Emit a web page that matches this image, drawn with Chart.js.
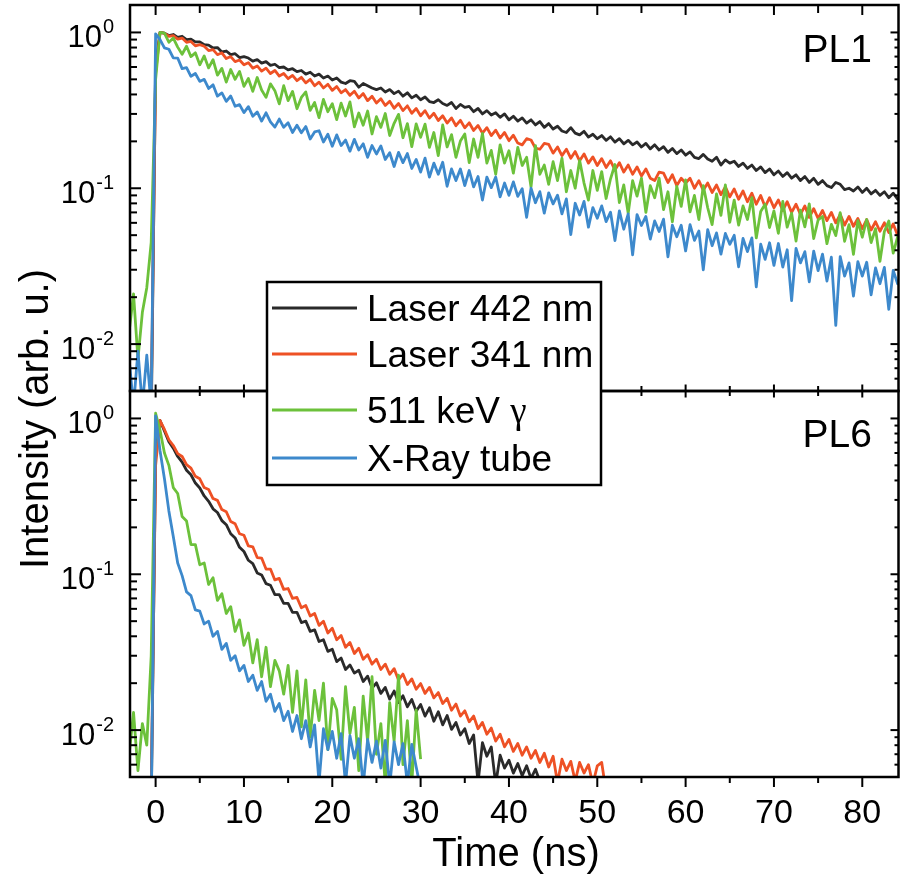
<!DOCTYPE html>
<html>
<head>
<meta charset="utf-8">
<title>PL1 / PL6 decay</title>
<script src="https://cdn.jsdelivr.net/npm/chart.js@4/dist/chart.umd.min.js"></script>
<style>
  html, body { margin: 0; padding: 0; background: #fff; }
  #decay { display: block; }
</style>
</head>
<body>
<canvas id="decay" width="901" height="878"></canvas>
<script>
// sampling grid, ns
const timeNs = [
  -3, -2.5, -2, -1.5, -1, -0.5, 0,
  0.5, 1, 1.5, 2, 2.5, 3, 3.5, 4, 4.5, 5,
  5.5, 6, 6.5, 7, 7.5, 8, 8.5, 9, 9.5, 10,
  10.5, 11, 11.5, 12, 12.5, 13, 13.5, 14, 14.5, 15,
  15.5, 16, 16.5, 17, 17.5, 18, 18.5, 19, 19.5, 20,
  20.5, 21, 21.5, 22, 22.5, 23, 23.5, 24, 24.5, 25,
  25.5, 26, 26.5, 27, 27.5, 28, 28.5, 29, 29.5, 30,
  30.5, 31, 31.5, 32, 32.5, 33, 33.5, 34, 34.5, 35,
  35.5, 36, 36.5, 37, 37.5, 38, 38.5, 39, 39.5, 40,
  40.5, 41, 41.5, 42, 42.5, 43, 43.5, 44, 44.5, 45,
  45.5, 46, 46.5, 47, 47.5, 48, 48.5, 49, 49.5, 50,
  50.5, 51, 51.5, 52, 52.5, 53, 53.5, 54, 54.5, 55,
  55.5, 56, 56.5, 57, 57.5, 58, 58.5, 59, 59.5, 60,
  60.5, 61, 61.5, 62, 62.5, 63, 63.5, 64, 64.5, 65,
  65.5, 66, 66.5, 67, 67.5, 68, 68.5, 69, 69.5, 70,
  70.5, 71, 71.5, 72, 72.5, 73, 73.5, 74, 74.5, 75,
  75.5, 76, 76.5, 77, 77.5, 78, 78.5, 79, 79.5, 80,
  80.5, 81, 81.5, 82, 82.5, 83, 83.5, 84, 84.5
];

const seriesNames = ['Laser 442 nm', 'Laser 341 nm', '511 keV \u03b3', 'X-Ray tube'];
const seriesColors = ['#2a2a2a', '#ee5125', '#6cc13b', '#3d89cc'];

const timeTicks = [0, 10, 20, 30, 40, 50, 60, 70, 80];
const intensityTicks = [1, 0.1, 0.01];
const intensityExponents = ['0', '-1', '-2'];
const panelNames = ['PL1', 'PL6'];

// PL1 panel
const pl1Laser442 = [
  .003, .003, .003, .003, .003, .003, .62,
  1.0, .99, .955, .97, .93, .945, .9, .905, .87, .87,
  .835, .83, .795, .8, .75, .76, .72, .73, .69, .7,
  .685, .655, .67, .635, .65, .615, .625, .595, .6, .575,
  .585, .56, .57, .54, .555, .525, .54, .51, .525, .495,
  .51, .48, .47, .49, .485, .445, .47, .455, .44, .43,
  .44, .415, .43, .405, .42, .39, .41, .38, .395, .37,
  .385, .36, .355, .37, .35, .34, .355, .325, .345, .33,
  .335, .31, .325, .3, .315, .295, .305, .285, .3, .275,
  .29, .27, .283, .262, .275, .255, .268, .246, .26, .24,
  .25, .233, .228, .245, .226, .22, .232, .213, .222, .208,
  .218, .203, .214, .198, .208, .193, .203, .19, .198, .184,
  .194, .179, .19, .176, .185, .17, .18, .167, .176, .163,
  .171, .158, .155, .165, .154, .149, .158, .141, .152, .145,
  .149, .138, .145, .134, .141, .13, .137, .126, .133, .122,
  .129, .119, .126, .116, .122, .112, .119, .109, .116, .106,
  .112, .104, .101, .109, .106, .098, .1, .096, .102, .094,
  .1, .092, .097, .09, .095, .087, .093, .085, .09
];
const pl1Laser341 = [
  .003, .003, .003, .003, .003, .004, .55,
  1.0, .985, .945, .955, .905, .92, .865, .875, .82, .835,
  .815, .765, .775, .72, .74, .68, .7, .65, .665, .62,
  .64, .59, .61, .565, .59, .545, .57, .525, .545, .505,
  .53, .49, .515, .475, .5, .455, .48, .44, .465, .425,
  .45, .41, .43, .395, .42, .38, .405, .365, .39, .352,
  .375, .34, .362, .326, .35, .315, .338, .303, .325, .292,
  .315, .282, .303, .272, .292, .262, .283, .252, .273, .244,
  .263, .235, .253, .226, .245, .218, .236, .21, .228, .202,
  .219, .195, .19, .208, .204, .181, .178, .194, .191, .168,
  .184, .162, .178, .156, .172, .15, .166, .145, .159, .14,
  .155, .136, .15, .131, .146, .127, .141, .123, .137, .12,
  .133, .116, .112, .127, .125, .109, .122, .104, .116, .108,
  .116, .1, .112, .097, .108, .094, .105, .091, .102, .088,
  .099, .085, .096, .082, .093, .079, .09, .076, .087, .075,
  .084, .072, .082, .07, .079, .068, .077, .065, .074, .064,
  .072, .062, .07, .06, .068, .058, .066, .057, .064, .055,
  .063, .054, .061, .053, .06, .052, .059, .05, .057
];
const pl1Gamma511 = [
  .012, .021, .008, .016, .023, .045, .5,
  1.0, .99, .865, .92, .805, .725, .815, .7, .74, .62,
  .707, .592, .668, .532, .588, .48, .578, .5, .562, .451,
  .506, .419, .514, .427, .383, .468, .423, .348, .455, .365,
  .418, .324, .383, .415, .316, .355, .284, .372, .31, .349,
  .276, .352, .291, .358, .248, .304, .254, .313, .223, .288,
  .246, .302, .218, .261, .298, .211, .26, .185, .259, .212,
  .258, .183, .228, .162, .255, .184, .221, .158, .201, .223,
  .146, .207, .158, .225, .145, .175, .123, .19, .145, .174,
  .125, .183, .14, .158, .102, .188, .123, .141, .106, .148,
  .112, .156, .095, .13, .1, .151, .108, .084, .13, .097,
  .128, .086, .115, .142, .081, .105, .069, .112, .089, .116,
  .07, .104, .087, .116, .073, .095, .061, .103, .0765, .113,
  .0705, .09, .063, .104, .075, .0585, .092, .067, .105, .0605,
  .084, .058, .077, .063, .087, .048, .071, .079, .056, .0715,
  .0514, .0824, .0563, .0692, .0458, .0724, .0566, .0794, .0476, .0626,
  .0659, .0441, .0587, .0497, .0698, .0457, .0584, .0377, .062, .0485,
  .063, .0448, .0551, .034, .0528, .0616, .0384, .0488, .0407
];
const pl1XRay = [
  .008, .004, .009, .004, .0085, .004, .98,
  .9, .795, .78, .686, .685, .586, .595, .523, .545, .485,
  .5, .437, .461, .39, .409, .361, .391, .336, .344, .306,
  .334, .29, .309, .27, .305, .267, .247, .278, .246, .263,
  .228, .254, .227, .249, .207, .23, .234, .198, .222, .186,
  .22, .188, .204, .173, .206, .176, .193, .158, .188, .166,
  .187, .153, .169, .138, .17, .146, .167, .134, .153, .127,
  .156, .118, .145, .123, .147, .103, .133, .112, .133, .104,
  .13, .102, .119, .084, .118, .101, .118, .088, .108, .09,
  .11, .0887, .0994, .0651, .1, .0807, .0951, .0692, .0934, .0794,
  .0903, .0685, .0854, .0505, .0801, .0674, .0824, .0563, .0752, .0642,
  .0771, .0611, .0702, .0462, .0716, .0546, .0684, .0374, .0678, .0577,
  .0659, .0472, .0617, .0528, .0634, .0363, .0579, .0489, .0579, .0396,
  .0584, .0463, .0532, .03, .0542, .0428, .0517, .0378, .0513, .0437,
  .0499, .0313, .0476, .0392, .048, .0233, .0438, .035, .0447, .032,
  .0442, .0312, .0403, .019, .0411, .0332, .0392, .0251, .0395, .0296,
  .0378, .0254, .0361, .0132, .0364, .0273, .0332, .0203, .0338, .0273,
  .0335, .0207, .0308, .0244, .0311, .0167, .0297, .0244, .028
];

// PL6 panel (records stop where the signal reaches the floor)
const pl6Laser442 = [
  .003, .003, .003, .003, .003, .003, .6,
  .97, .83, .71, .645, .57, .525, .465, .435, .385, .358,
  .318, .294, .263, .249, .221, .208, .182, .171, .149, .14,
  .123, .117, .102, .099, .087, .085, .074, .074, .065, .065,
  .057, .057, .049, .05, .043, .044, .037, .038, .032, .033,
  .0275, .029, .0245, .0262, .0232, .0242, .0205, .0222, .0186, .0201,
  .0172, .0188, .0158, .0178, .015, .0166, .0141, .0157, .0132, .0146,
  .0123, .0139, .0114, .0131, .0108, .0124, .0101, .0112, .0093, .0102,
  .0082, .0093, .0046, .0083, .0068, .0078, .0045, .0069, .0057, .0064,
  .0053, .0061, .0051, .0059, .0049, .0056, .0047, .004
];
const pl6Laser341 = [
  .003, .003, .003, .003, .003, .004, .5,
  .97, .85, .73, .67, .595, .57, .505, .48, .425, .41,
  .36, .35, .306, .298, .26, .252, .218, .211, .182, .178,
  .152, .15, .128, .127, .108, .108, .092, .094, .08, .081,
  .07, .071, .061, .063, .054, .056, .047, .05, .042, .045,
  .038, .0405, .034, .0365, .031, .0335, .0285, .0305, .0265, .0285,
  .0245, .0265, .0228, .0248, .021, .0229, .0196, .0213, .0183, .0199,
  .0172, .0188, .0161, .0174, .0148, .016, .0134, .0147, .0123, .0133,
  .0113, .0123, .0102, .0112, .0094, .0103, .0085, .0094, .0078, .0087,
  .0073, .0082, .0069, .0078, .0066, .0074, .0062, .0071, .0058, .0068,
  .0046, .0065, .0055, .0063, .0047, .0062, .0053, .006, .0045, .0059,
  .0062, .004
];
const pl6Gamma511 = [
  .007, .013, .0055, .011, .008, .03, 1.08,
  .84, .6, .5, .36, .33, .235, .22, .155, .155, .115,
  .118, .086, .095, .068, .075, .056, .062, .043, .051, .035,
  .042, .027, .038, .022, .034, .019, .028, .024, .017, .026,
  .013, .024, .0105, .021, .009, .018, .0115, .02, .0075, .016,
  .0135, .0065, .019, .0095, .014, .0055, .0165, .0085, .022, .007,
  .011, .0045, .015, .0085, .0225, .006, .0115, .0045, .0135, .0065
];
const pl6XRay = [
  .003, .003, .003, .003, .003, .003, 1.04,
  .62, .41, .255, .175, .118, .098, .077, .073, .059, .058,
  .048, .05, .04, .043, .033, .036, .028, .03, .024, .026,
  .0205, .0225, .018, .0205, .0153, .017, .0132, .0148, .0115, .0132,
  .0098, .0124, .0088, .0115, .0078, .0108, .0046, .0102, .0075, .0098,
  .0066, .0095, .0045, .0092, .0066, .0088, .0044, .0087, .0062, .0085,
  .0057, .0086, .0044, .0084, .006, .0082, .0045, .0081, .0058, .0042
];

const FONT = '"Liberation Sans", Arial, sans-serif';
const SERIF = '"Liberation Serif", "Times New Roman", serif';

function series(i, data, axis) {
  return {
    label: seriesNames[i], data, yAxisID: axis,
    borderColor: seriesColors[i], backgroundColor: seriesColors[i],
    borderWidth: 2.8, borderJoinStyle: 'round', pointRadius: 0, tension: 0, fill: false,
    order: 4 - i, // x-ray trace on top, laser 442 at the back
  };
}

const logAxis = (weight) => ({
  type: 'logarithmic', position: 'left', stack: 'panels', stackWeight: 1, weight,
  min: 0.005, max: 1.5,
  grid: { display: false }, border: { display: false }, ticks: { display: false },
  afterFit: (s) => { s.width = 130; },
});

function decadeMarks(min, max) {
  const out = [];
  for (let e = -3; e <= 0; e++) {
    for (let m = 1; m <= 9; m++) {
      const v = m * Math.pow(10, e);
      if (v >= min && v <= max) out.push({ v, major: m === 1 });
    }
  }
  return out;
}

function seg(ctx, x1, y1, x2, y2) {
  ctx.beginPath();
  ctx.moveTo(x1, y1);
  ctx.lineTo(x2, y2);
  ctx.stroke();
}

const framePlugin = {
  id: 'framePlugin',
  afterDraw(chart) {
    const { ctx } = chart;
    const x = chart.scales.x;
    const yTop = chart.scales.yTop;
    const yBot = chart.scales.yBottom;
    const left = x.left, right = x.right;
    ctx.save();
    ctx.strokeStyle = '#000';
    ctx.fillStyle = '#000';

    // panel boxes
    ctx.lineWidth = 2.5;
    for (const y of [yTop, yBot]) ctx.strokeRect(left, y.top, right - left, y.bottom - y.top);

    // time ticks: top edge, shared divider, bottom edge
    ctx.lineWidth = 2;
    const minorTimes = timeTicks.map(t => t + 5).filter(t => t < x.max);
    for (const [list, major] of [[timeTicks, true], [minorTimes, false]]) {
      for (const t of list) {
        const px = x.getPixelForValue(t);
        seg(ctx, px, yTop.top, px, yTop.top + (major ? 10 : 8));
        seg(ctx, px, yTop.bottom - (major ? 6.5 : 5), px, yTop.bottom + (major ? 6.5 : 5));
        seg(ctx, px, yBot.bottom, px, yBot.bottom + (major ? 10 : 6));
      }
    }

    // intensity ticks, both sides of each panel
    for (const y of [yTop, yBot]) {
      for (const { v, major } of decadeMarks(y.min, y.max)) {
        const py = y.getPixelForValue(v);
        seg(ctx, left, py, left + (major ? 11 : 7), py);
        seg(ctx, right, py, right - (major ? 8 : 4), py);
      }
      // 10^n labels
      intensityTicks.forEach((v, i) => {
        const py = y.getPixelForValue(v);
        ctx.textBaseline = 'alphabetic';
        ctx.font = `20px ${FONT}`;
        const expW = ctx.measureText(intensityExponents[i]).width;
        ctx.textAlign = 'left';
        ctx.fillText(intensityExponents[i], 114 - expW, py + 1);
        ctx.font = `31px ${FONT}`;
        ctx.textAlign = 'right';
        ctx.fillText('10', 113 - expW, py + 15);
      });
    }

    // time tick labels
    ctx.font = `34px ${FONT}`;
    ctx.textAlign = 'center';
    ctx.textBaseline = 'alphabetic';
    for (const t of timeTicks) ctx.fillText(String(t), x.getPixelForValue(t), 823);

    // axis titles
    ctx.font = `40px ${FONT}`;
    ctx.fillText('Time (ns)', 516, 866);
    ctx.save();
    ctx.translate(48, 419);
    ctx.rotate(-Math.PI / 2);
    ctx.fillText('Intensity (arb. u.)', 0, 0);
    ctx.restore();

    // panel names
    ctx.font = `39px ${FONT}`;
    ctx.textAlign = 'right';
    ctx.fillText(panelNames[0], 872, yTop.top + 57);
    ctx.fillText(panelNames[1], 872, yBot.top + 56);

    // legend, drawn over the divider
    const box = { l: 267, t: 282, r: 601, b: 485 };
    const rows = [308, 354, 410, 458];
    ctx.fillStyle = '#fff';
    ctx.fillRect(box.l, box.t, box.r - box.l, box.b - box.t);
    ctx.lineWidth = 2.5;
    ctx.strokeRect(box.l, box.t, box.r - box.l, box.b - box.t);
    ctx.font = `37px ${FONT}`;
    ctx.textAlign = 'left';
    chart.data.datasets.slice(0, 4).forEach((ds, i) => {
      ctx.strokeStyle = ds.borderColor;
      ctx.lineWidth = 3;
      seg(ctx, 272, rows[i], 357, rows[i]);
      ctx.fillStyle = '#000';
      const label = ds.label;
      const g = label.indexOf('\u03b3');
      if (g >= 0) {
        const head = label.slice(0, g);
        ctx.font = `37px ${FONT}`;
        ctx.fillText(head, 367, rows[i] + 13);
        const w = ctx.measureText(head).width;
        ctx.font = `37px ${SERIF}`;
        ctx.fillText(label.slice(g), 367 + w, rows[i] + 13);
        ctx.font = `37px ${FONT}`;
      } else {
        ctx.fillText(label, 367, rows[i] + 13);
      }
    });
    ctx.restore();
  }
};

new Chart(document.getElementById('decay').getContext('2d'), {
  type: 'line',
  data: {
    labels: timeNs,
    datasets: [
      series(0, pl1Laser442, 'yTop'),
      series(1, pl1Laser341, 'yTop'),
      series(2, pl1Gamma511, 'yTop'),
      series(3, pl1XRay, 'yTop'),
      series(0, pl6Laser442, 'yBottom'),
      series(1, pl6Laser341, 'yBottom'),
      series(2, pl6Gamma511, 'yBottom'),
      series(3, pl6XRay, 'yBottom'),
    ],
  },
  options: {
    animation: false,
    responsive: false,
    events: [],
    layout: { padding: { top: 5, right: 2.5, left: 0, bottom: 0 } },
    plugins: { legend: { display: false }, tooltip: { enabled: false } },
    scales: {
      x: {
        type: 'linear', min: -2.9, max: 84.1,
        grid: { display: false }, border: { display: false }, ticks: { display: false },
        afterFit: (s) => { s.height = 101; },
      },
      yBottom: logAxis(0),
      yTop: logAxis(1),
    },
  },
  plugins: [framePlugin],
});
</script>
</body>
</html>
